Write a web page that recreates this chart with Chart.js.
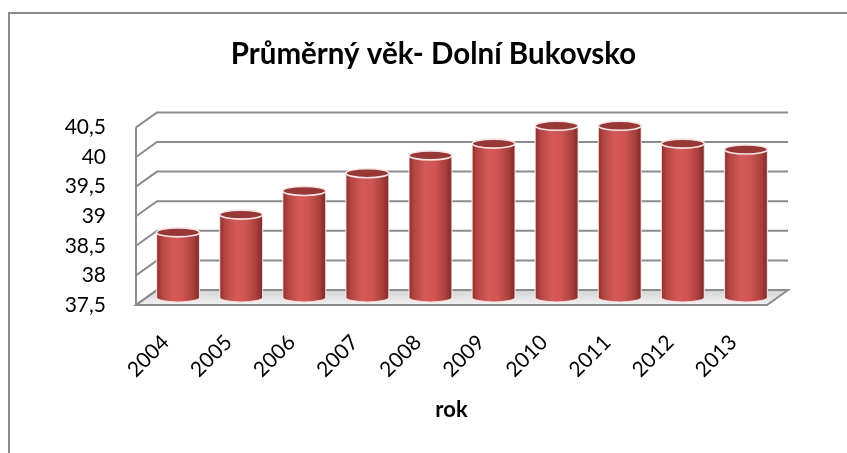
<!DOCTYPE html>
<html>
<head>
<meta charset="utf-8">
<script src="https://cdn.jsdelivr.net/npm/chart.js@4"></script>
<style>
  html, body { margin: 0; padding: 0; background: #fff; }
  #obal { width: 847px; height: 453px; position: relative; }
</style>
</head>
<body>
<div id="obal"><canvas id="grafico"></canvas></div>
<script>
var roky = ["2004", "2005", "2006", "2007", "2008", "2009", "2010", "2011", "2012", "2013"];
var prumernyVek = [38.6, 38.9, 39.3, 39.6, 39.9, 40.1, 40.4, 40.4, 40.1, 40.0];
var vekTicks = [37.5, 38, 38.5, 39, 39.5, 40, 40.5];

// hloubka 3D pohledu
var hloubkaX = 21;
var hloubkaY = 15;

var ramecek = {
  id: "ramecek",
  beforeDraw: function (chart) {
    var ctx = chart.ctx;
    ctx.save();
    ctx.strokeStyle = "#8c8c8c";
    ctx.lineWidth = 2;
    ctx.strokeRect(9, 13, 900, 500);
    ctx.restore();
  },
};

var steny = {
  id: "steny",
  beforeDatasetsDraw: function (chart) {
    var ctx = chart.ctx;
    var a = chart.chartArea;
    var y = chart.scales.y;
    var yf = y.getPixelForValue(vekTicks[0]);

    ctx.save();
    // podlaha
    var g = ctx.createLinearGradient(0, yf - hloubkaY, 0, yf);
    g.addColorStop(0, "#d4d4d4");
    g.addColorStop(1, "#f2f2f2");
    ctx.fillStyle = g;
    ctx.beginPath();
    ctx.moveTo(a.left, yf);
    ctx.lineTo(a.right, yf);
    ctx.lineTo(a.right + hloubkaX, yf - hloubkaY);
    ctx.lineTo(a.left + hloubkaX, yf - hloubkaY);
    ctx.closePath();
    ctx.fill();

    ctx.strokeStyle = "#8c8c8c";
    ctx.lineWidth = 2;
    ctx.stroke();

    // mrizka na zadni a bocni stene
    for (var i = 0; i < vekTicks.length; i++) {
      var py = y.getPixelForValue(vekTicks[i]);
      ctx.beginPath();
      ctx.moveTo(a.left, py);
      ctx.lineTo(a.left + hloubkaX, py - hloubkaY);
      ctx.lineTo(a.right + hloubkaX, py - hloubkaY);
      ctx.stroke();
    }

    ctx.beginPath();
    ctx.moveTo(a.left, y.getPixelForValue(vekTicks[vekTicks.length - 1]));
    ctx.lineTo(a.left, yf);
    ctx.stroke();
    ctx.restore();
  },
};

var valce = {
  id: "valce",
  afterDatasetsDraw: function (chart) {
    var ctx = chart.ctx;
    var meta = chart.getDatasetMeta(0);
    var zaklad = chart.scales.y.getPixelForValue(vekTicks[0]);
    ctx.save();
    for (var i = 0; i < meta.data.length; i++) {
      var el = meta.data[i];
      var cx = el.x + hloubkaX / 2;
      var top = el.y - hloubkaY / 2;
      var bot = zaklad - hloubkaY / 2;
      var rx = el.width / 2;
      var ry = 4.5;

      var g = ctx.createLinearGradient(cx - rx, 0, cx + rx, 0);
      g.addColorStop(0, "#8e302e");
      g.addColorStop(0.12, "#b44542");
      g.addColorStop(0.38, "#d45a57");
      g.addColorStop(0.6, "#cf5552");
      g.addColorStop(0.86, "#a83f3c");
      g.addColorStop(1, "#7e2a28");

      ctx.beginPath();
      ctx.moveTo(cx - rx, top);
      ctx.lineTo(cx - rx, bot);
      ctx.ellipse(cx, bot, rx, ry, 0, Math.PI, 0, true);
      ctx.lineTo(cx + rx, top);
      ctx.ellipse(cx, top, rx, ry, 0, 0, Math.PI, true);
      ctx.closePath();
      ctx.fillStyle = g;
      ctx.fill();
      ctx.strokeStyle = "rgba(255,240,240,0.8)";
      ctx.lineWidth = 1.2;
      ctx.stroke();

      ctx.beginPath();
      ctx.ellipse(cx, top, rx, ry, 0, 0, Math.PI * 2);
      ctx.fillStyle = "#973836";
      ctx.fill();
      ctx.strokeStyle = "#f6e6e6";
      ctx.lineWidth = 1.6;
      ctx.stroke();
    }
    ctx.restore();
  },
};

new Chart(grafico, {
  type: "bar",
  data: {
    labels: roky,
    datasets: [
      {
        data: prumernyVek,
        backgroundColor: "rgba(0,0,0,0)",
        borderWidth: 0,
        barPercentage: 0.68,
        categoryPercentage: 1,
      },
    ],
  },
  options: {
    responsive: true,
    maintainAspectRatio: false,
    animation: false,
    layout: {
      autoPadding: false,
      padding: { left: 20, right: 0, top: 0, bottom: 0 },
    },
    scales: {
      y: {
        min: 37.5,
        max: 40.5,
        afterBuildTicks: function (scale) {
          scale.ticks = vekTicks.map(function (v) {
            return { value: v };
          });
        },
        afterFit: function (scale) {
          scale.width = 116;
        },
        grid: { display: false },
        border: { display: false },
        ticks: {
          padding: 22,
          color: "#000",
          font: { family: "Lato", size: 21 },
          callback: function (v) {
            return String(v).replace(".", ",");
          },
        },
      },
      prazdna: {
        position: "right",
        afterFit: function (scale) {
          scale.width = 80;
        },
        grid: { display: false },
        border: { display: false },
        ticks: { display: false },
      },
      x: {
        afterFit: function (scale) {
          scale.height = 148;
        },
        grid: { display: false },
        border: { display: false },
        ticks: {
          minRotation: 45,
          maxRotation: 45,
          padding: 17,
          labelOffset: -2,
          color: "#000",
          font: { family: "Lato", size: 21 },
        },
        title: {
          display: true,
          text: "rok",
          color: "#000",
          font: { family: "Lato", size: 22, weight: "bold" },
          padding: { top: 0, bottom: 30 },
        },
      },
    },
    plugins: {
      legend: { display: false },
      tooltip: { enabled: false },
      title: {
        display: true,
        text: "Průměrný věk- Dolní Bukovsko",
        color: "#000",
        font: { family: "Lato", size: 29.5, weight: "bold" },
        padding: { top: 37, bottom: 55 },
      },
    },
  },
  plugins: [ramecek, steny, valce],
});
</script>
</body>
</html>
